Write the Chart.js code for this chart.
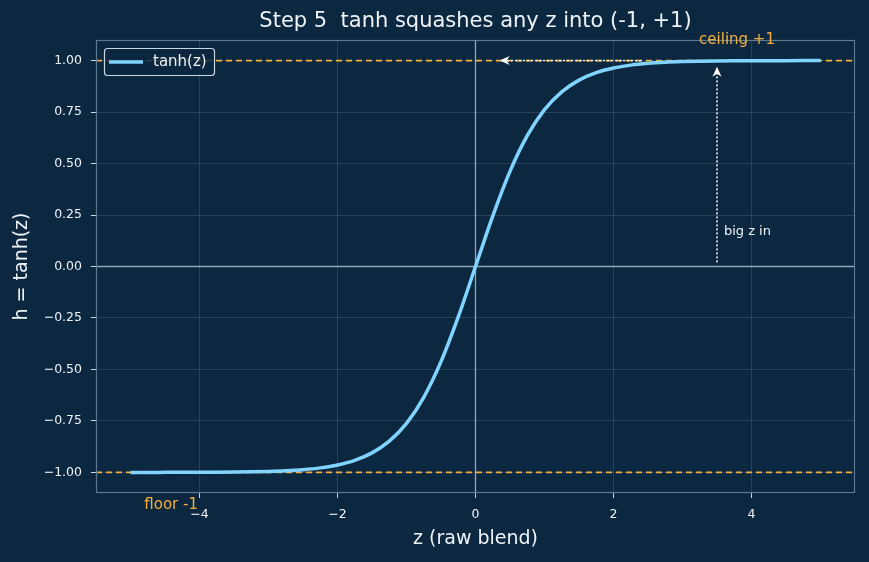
<!DOCTYPE html>
<html>
<head>
<meta charset="utf-8">
<script src="https://cdn.jsdelivr.net/npm/chart.js@4.4.1/dist/chart.umd.min.js"></script>
<style>
  html, body { margin: 0; padding: 0; background: #0c2740; }
  #wrap { width: 869px; height: 562px; }
</style>
</head>
<body>
<div id="wrap"><canvas id="tanhChart" width="869" height="562"></canvas></div>
<script>
// values
const zValues = [-5, -4.75, -4.5, -4.25, -4, -3.75, -3.5, -3.25, -3, -2.75, -2.5, -2.25, -2, -1.75, -1.5, -1.25, -1, -0.75, -0.5, -0.25,
  0, 0.25, 0.5, 0.75, 1, 1.25, 1.5, 1.75, 2, 2.25, 2.5, 2.75, 3, 3.25, 3.5, 3.75, 4, 4.25, 4.5, 4.75, 5];
const hValues = [-0.9999, -0.9999, -0.9998, -0.9996, -0.9993, -0.9989, -0.9982, -0.997, -0.9951, -0.9919, -0.9866, -0.978, -0.964, -0.9414, -0.9051, -0.8483, -0.7616, -0.6351, -0.4621, -0.2449,
  0, 0.2449, 0.4621, 0.6351, 0.7616, 0.8483, 0.9051, 0.9414, 0.964, 0.978, 0.9866, 0.9919, 0.9951, 0.997, 0.9982, 0.9989, 0.9993, 0.9996, 0.9998, 0.9999, 0.9999];
const xTicks = [-4, -2, 0, 2, 4];
const yTicks = [-1, -0.75, -0.5, -0.25, 0, 0.25, 0.5, 0.75, 1];
const limitLevels = [1, -1];
const ceilingArrow = { from: [2.4, 1], to: [0.35, 1] };
const bigZArrow = { from: [3.5, 0.02], to: [3.5, 0.97] };

const BG = '#0c2740';
const CURVE = '#80d4ff';
const ORANGE = '#f4b03e';
const TEXT = '#eef3f7';
const FONT = '"DejaVu Sans", sans-serif';

const fmtMinus = (v, d) => (v < 0 ? '\u2212' : '') + Math.abs(v).toFixed(d);

function arrow(ctx, x1, y1, x2, y2) {
  ctx.save();
  ctx.strokeStyle = '#ffffff';
  ctx.fillStyle = '#ffffff';
  ctx.lineWidth = 1.5;
  ctx.setLineDash([2, 2]);
  const ang = Math.atan2(y2 - y1, x2 - x1);
  ctx.beginPath();
  ctx.moveTo(x1, y1);
  ctx.lineTo(x2 - 6 * Math.cos(ang), y2 - 6 * Math.sin(ang));
  ctx.stroke();
  ctx.setLineDash([]);
  ctx.translate(x2, y2);
  ctx.rotate(ang);
  ctx.beginPath();
  ctx.moveTo(0, 0);
  ctx.lineTo(-10, -4.5);
  ctx.lineTo(-7, 0);
  ctx.lineTo(-10, 4.5);
  ctx.closePath();
  ctx.fill();
  ctx.restore();
}

const decorations = {
  id: 'decorations',
  beforeDraw(chart) {
    const ctx = chart.ctx;
    ctx.save();
    ctx.fillStyle = BG;
    ctx.fillRect(0, 0, chart.width, chart.height);
    ctx.restore();
  },
  beforeDatasetsDraw(chart) {
    const { ctx, chartArea: a, scales: { x, y } } = chart;
    ctx.save();
    ctx.strokeStyle = '#8ea8ba';
    ctx.lineWidth = 1.3;
    ctx.beginPath();
    ctx.moveTo(a.left, y.getPixelForValue(0));
    ctx.lineTo(a.right, y.getPixelForValue(0));
    ctx.moveTo(x.getPixelForValue(0), a.top);
    ctx.lineTo(x.getPixelForValue(0), a.bottom);
    ctx.stroke();
    ctx.restore();
  },
  afterDatasetsDraw(chart) {
    const { ctx, chartArea: a, scales: { x, y } } = chart;
    // spines
    ctx.save();
    ctx.strokeStyle = '#5d7890';
    ctx.lineWidth = 1.2;
    ctx.strokeRect(a.left + 0.5, a.top + 0.5, a.right - a.left - 1, a.bottom - a.top - 1);
    ctx.restore();

    arrow(ctx, x.getPixelForValue(ceilingArrow.from[0]), y.getPixelForValue(ceilingArrow.from[1]),
      x.getPixelForValue(ceilingArrow.to[0]), y.getPixelForValue(ceilingArrow.to[1]));
    arrow(ctx, x.getPixelForValue(bigZArrow.from[0]), y.getPixelForValue(bigZArrow.from[1]),
      x.getPixelForValue(bigZArrow.to[0]), y.getPixelForValue(bigZArrow.to[1]));

    ctx.save();
    ctx.textBaseline = 'middle';
    ctx.fillStyle = TEXT;
    ctx.font = '13px ' + FONT;
    ctx.textAlign = 'left';
    ctx.fillText('big z in', x.getPixelForValue(3.6), y.getPixelForValue(0.17));
    ctx.fillStyle = ORANGE;
    ctx.font = '15px ' + FONT;
    ctx.textAlign = 'center';
    ctx.fillText('ceiling +1', x.getPixelForValue(3.79), y.getPixelForValue(1.1));
    ctx.textAlign = 'left';
    ctx.fillText('floor -1', x.getPixelForValue(-4.8), y.getPixelForValue(-1.16));

    // title and axis titles
    ctx.fillStyle = TEXT;
    ctx.font = '21px ' + FONT;
    ctx.textAlign = 'center';
    ctx.fillText('Step 5  tanh squashes any z into (-1, +1)', (a.left + a.right) / 2, 22);
    ctx.font = '19px ' + FONT;
    ctx.fillText('z (raw blend)', (a.left + a.right) / 2, 539);
    ctx.translate(22, (a.top + a.bottom) / 2);
    ctx.rotate(-Math.PI / 2);
    ctx.fillText('h = tanh(z)', 0, 0);
    ctx.restore();

    // legend box
    ctx.save();
    ctx.fillStyle = 'rgba(12,39,64,0.85)';
    ctx.strokeStyle = '#c9d6e0';
    ctx.lineWidth = 1.2;
    ctx.beginPath();
    ctx.roundRect(104.5, 48.5, 110, 27, 3);
    ctx.fill();
    ctx.stroke();
    ctx.strokeStyle = CURVE;
    ctx.lineWidth = 3.5;
    ctx.beginPath();
    ctx.moveTo(109, 62);
    ctx.lineTo(143, 62);
    ctx.stroke();
    ctx.fillStyle = TEXT;
    ctx.font = '15px ' + FONT;
    ctx.textBaseline = 'middle';
    ctx.fillText('tanh(z)', 153, 62);
    ctx.restore();
  }
};

const limitSets = limitLevels.map(v => ({
  data: [{ x: -5.5, y: v }, { x: 5.5, y: v }],
  borderColor: ORANGE,
  borderWidth: 1.6,
  borderDash: [6, 4],
  pointRadius: 0,
  fill: false
}));

new Chart(document.getElementById('tanhChart').getContext('2d'), {
  type: 'line',
  data: {
    datasets: [
      {
        label: 'tanh(z)',
        data: zValues.map((z, i) => ({ x: z, y: hValues[i] })),
        borderColor: CURVE,
        borderWidth: 3.5,
        pointRadius: 0,
        cubicInterpolationMode: 'monotone',
        fill: false
      },
      ...limitSets
    ]
  },
  plugins: [decorations],
  options: {
    responsive: false,
    animation: false,
    layout: { padding: { top: 40, right: 14, left: 0, bottom: 0 } },
    plugins: { legend: { display: false }, tooltip: { enabled: false } },
    scales: {
      x: {
        type: 'linear',
        min: -5.5,
        max: 5.5,
        afterBuildTicks: s => { s.ticks = xTicks.map(v => ({ value: v })); },
        afterFit: s => { s.height = 69; },
        grid: { color: 'rgba(255,255,255,0.12)', tickColor: '#c9d6e0', tickLength: 5, drawOnChartArea: true },
        border: { display: false },
        ticks: { color: TEXT, font: { family: FONT, size: 12.5 }, padding: 9, maxRotation: 0, callback: v => fmtMinus(v, 0) }
      },
      y: {
        type: 'linear',
        min: -1.1,
        max: 1.1,
        afterBuildTicks: s => { s.ticks = yTicks.map(v => ({ value: v })); },
        afterFit: s => { s.width = 96; },
        grid: { color: 'rgba(255,255,255,0.12)', tickColor: '#c9d6e0', tickLength: 5 },
        border: { display: false },
        ticks: { color: TEXT, font: { family: FONT, size: 12.5 }, padding: 9, callback: v => fmtMinus(v, 2) }
      }
    }
  }
});
</script>
</body>
</html>
